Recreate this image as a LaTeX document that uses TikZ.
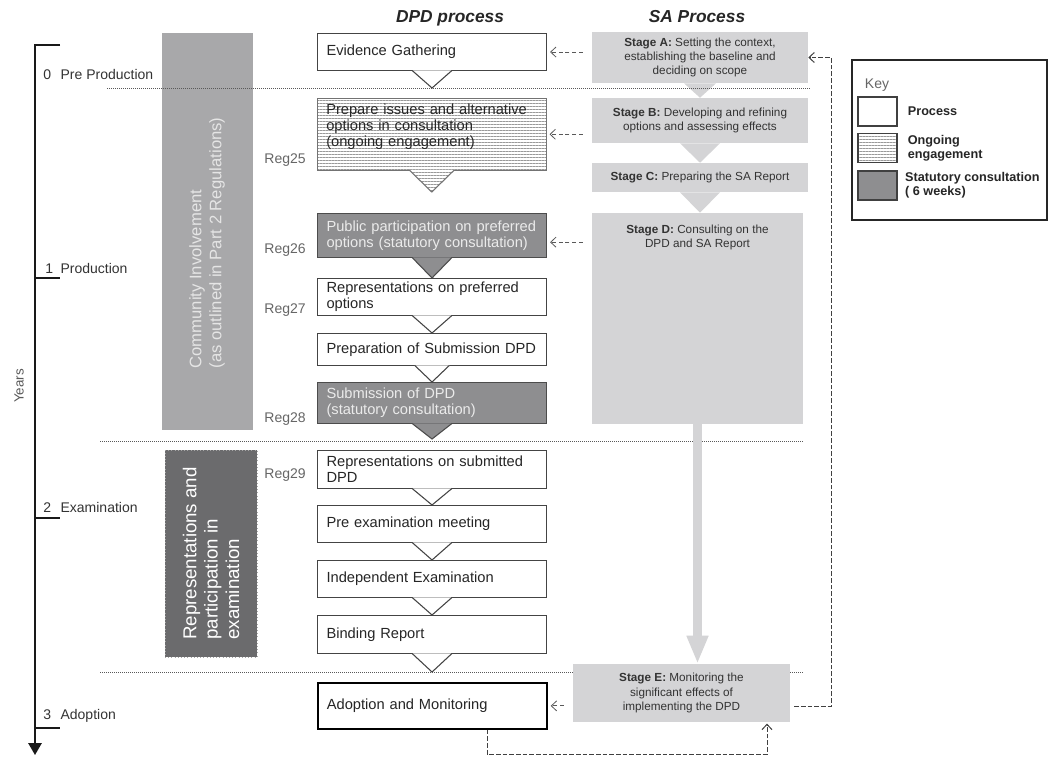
\documentclass[tikz,border=0pt]{standalone}
\usepackage{fontspec}
\setmainfont{Liberation Sans}
\usetikzlibrary{patterns.meta,arrows.meta,positioning}

\definecolor{sagrey}{HTML}{D4D4D6}
\definecolor{cigrey}{HTML}{A8A8AA}
\definecolor{repgrey}{HTML}{6B6B6D}
\definecolor{statgrey}{HTML}{8E8E90}
\definecolor{linegrey}{HTML}{444444}

\newcommand{\boxfont}{\fontsize{11}{12}\selectfont}
\newcommand{\stagefont}{\fontsize{8.8}{10.8}\selectfont}
\newcommand{\yearfont}{\fontsize{10.5}{12}\selectfont}

\begin{document}
\begin{tikzpicture}
[x=0.75pt,y=-0.75pt,
 dpd/.style={draw=linegrey, line width=0.8pt, fill=white, anchor=north west,
   minimum width=171.75pt, text width=158.25pt, inner xsep=6.75pt, inner ysep=0pt,
   align=left, font=\boxfont, text=black!85},
 hatch/.style={pattern={Lines[angle=0,distance=2.25pt,line width=0.4pt]}, pattern color=black!40},
 ongoing/.style={dpd, draw=black!55, hatch},
 stat/.style={dpd, fill=statgrey, draw=black!70, text=white!92!black},
 adoptbox/.style={dpd, draw=black, line width=1.3pt},
 vtip/.style={draw=linegrey, line width=0.8pt, fill=white},
 vstat/.style={vtip, draw=black!70, fill=statgrey},
 sabox/.style={fill=sagrey, font=\stagefont, align=center, inner sep=0pt, text=black!80},
 band/.style={inner sep=0pt},
 bandtext/.style={rotate=90, align=left, inner sep=0pt},
 yearlabel/.style={anchor=west, inner sep=0pt, font=\yearfont, text=black!80},
 reg/.style={anchor=east, inner sep=0pt, font=\yearfont, text=black!60},
 head/.style={font=\fontsize{13}{15}\selectfont\bfseries\itshape, text=black!85},
 timeline/.style={line width=1.5pt, draw=black!90},
 stageline/.style={draw=black!65, line width=0.75pt, dash pattern=on 0.75pt off 0.75pt},
 feed/.style={draw=black!65, line width=0.6pt, dash pattern=on 3pt off 2pt,
   -{Straight Barb[length=4pt,width=7.5pt]}, shorten >=2.25pt, shorten <=6.75pt},
 loopline/.style={draw=black!75, line width=0.75pt, dash pattern=on 3.5pt off 1.5pt,
   -{Straight Barb[length=4pt,width=7.5pt]}},
 saflow/.style={draw=sagrey, line width=6.75pt, -{Triangle[length=21pt,width=15pt]}},
 keyswatch/.style={draw=black!75, line width=0.9pt, minimum width=29.25pt,
   minimum height=21.75pt, inner sep=0pt},
 keytext/.style={inner sep=0pt, align=left, text=black!85,
   font=\fontsize{9.5}{10.5}\selectfont\bfseries}]

  \useasboundingbox (0,0) rectangle (1050,757);
  \fill[white] (0,0) rectangle (1050,757);

  % time axis
  \draw[timeline, -{Triangle[length=9pt,width=10pt]}] (60,45) -- (35,45) -- (35,755);
  \foreach \y in {278,518,728}
    \draw[timeline] (35,\y) -- (60,\y);
  \node[yearlabel] (p0) at (43,74) {\makebox[13pt][l]{0}Pre Production};
  \node[yearlabel] (p1) at (45,268) {\makebox[11.5pt][l]{1}Production};
  \node[yearlabel] (p2) at (43,507) {\makebox[13pt][l]{2}Examination};
  \node[yearlabel] (p3) at (43,716) {\makebox[13pt][l]{3}Adoption};
  \node[rotate=90, font=\fontsize{10}{12}\selectfont, text=black!65] (years) at (19,386) {Years};

  % side bands
  \node[band, fill=cigrey, minimum width=68.25pt, minimum height=297.75pt] (ci) at (207.5,231.5) {};
  \node[bandtext, text=white!90!black, font=\fontsize{12.5}{15}\selectfont] (citext) at (207,243)
    {Community Involvement\\(as outlined in Part 2 Regulations)};
  \node[band, fill=repgrey, draw=black!35, dotted, minimum width=69pt, minimum height=155.25pt] (rep) at (211,553.5) {};
  \node[bandtext, text=white, font=\fontsize{14}{16}\selectfont] (reptext) at (rep.center)
    {Representations and\\participation in\\examination};

  \node[head] (dpdhead) at (450,18) {DPD process};
  \node[head] (sahead) at (697,17) {SA Process};

  % SA process
  \node[sabox, minimum width=162pt, minimum height=38.25pt] (stA) at (700,57.5)
    {\textbf{Stage A:} Setting the context,\\establishing the baseline and\\deciding on scope};
  \node[sabox, minimum width=162pt, minimum height=33.75pt] (stB) at (700,120.5)
    {\textbf{Stage B:} Developing and refining\\options and assessing effects};
  \node[sabox, minimum width=162pt, minimum height=21.75pt] (stC) at (700,177.5)
    {\textbf{Stage C:} Preparing the SA Report};
  \node[sabox, minimum width=158.25pt, minimum height=158.25pt] (stD) at (697.5,318.5) {};
  \node[sabox, fill=none, anchor=north] (stDtext) at ([yshift=-9pt]stD.north)
    {\textbf{Stage D:} Consulting on the\\DPD and SA Report};
  \fill[sagrey] ([xshift=-12pt]stA.south) -- ([xshift=12pt]stA.south) -- (stB.north) -- cycle;
  \fill[sagrey] ([xshift=-15pt]stB.south) -- ([xshift=15pt]stB.south) -- (stC.north) -- cycle;
  \fill[sagrey] ([xshift=-15pt]stC.south) -- ([xshift=15pt]stC.south) -- (stC.south |- stD.north) -- cycle;

  % stage separators
  \draw[stageline] (107,88) -- (810,88);
  \draw[stageline] (100,441) -- (804,441);
  \draw[stageline] (100,672) -- (804,672);

  % DPD process
  \node[dpd, minimum height=27.75pt] (ev) at (317,33) {Evidence Gathering};
  \node[ongoing, minimum height=54pt, text depth=37pt] (prep) at (317,98)
    {Prepare issues and alternative\\options in consultation\\(ongoing engagement)};
  \node[stat, minimum height=33pt] (pub) at (317,213)
    {Public participation on preferred\\options (statutory consultation)};
  \node[dpd, minimum height=27.75pt] (rpref) at (317,278)
    {Representations on preferred\\options};
  \node[dpd, minimum height=24pt] (prepsub) at (317,333) {Preparation of Submission DPD};
  \node[stat, minimum height=30.75pt] (sub) at (317,382)
    {Submission of DPD\\(statutory consultation)};
  \node[dpd, minimum height=28.5pt] (rsub) at (317,450)
    {Representations on submitted\\DPD};
  \node[dpd, minimum height=27.75pt] (preex) at (317,505) {Pre examination meeting};
  \node[dpd, minimum height=27.75pt] (indep) at (317,560) {Independent Examination};
  \node[dpd, minimum height=28.5pt] (bind) at (317,615) {Binding Report};
  \node[adoptbox, minimum height=34.5pt] (adopt) at (317,682) {Adoption and Monitoring};

  % pointers under the boxes
  \filldraw[vtip] ([xshift=-15pt,yshift=0.5pt]ev.south) -- (ev.south |- 0,88) -- ([xshift=15pt,yshift=0.5pt]ev.south);
  \fill[white] ([xshift=-17pt,yshift=0.5pt]prep.south) -- (prep.south |- 0,192) -- ([xshift=17pt,yshift=0.5pt]prep.south) -- cycle;
  \filldraw[vtip, hatch, draw=black!55] ([xshift=-17pt,yshift=0.5pt]prep.south) -- (prep.south |- 0,192) -- ([xshift=17pt,yshift=0.5pt]prep.south);
  \filldraw[vstat] ([xshift=-15pt,yshift=0.5pt]pub.south) -- (pub.south |- rpref.north) -- ([xshift=15pt,yshift=0.5pt]pub.south);
  \filldraw[vtip] ([xshift=-15pt,yshift=0.5pt]rpref.south) -- (rpref.south |- prepsub.north) -- ([xshift=15pt,yshift=0.5pt]rpref.south);
  \filldraw[vtip] ([xshift=-13pt,yshift=0.5pt]prepsub.south) -- (prepsub.south |- sub.north) -- ([xshift=13pt,yshift=0.5pt]prepsub.south);
  \filldraw[vstat] ([xshift=-15pt,yshift=0.5pt]sub.south) -- (sub.south |- 0,439) -- ([xshift=15pt,yshift=0.5pt]sub.south);
  \foreach \a/\b in {rsub/preex,preex/indep,indep/bind}
    \filldraw[vtip] ([xshift=-15pt,yshift=0.5pt]\a.south) -- (\a.south |- \b.north) -- ([xshift=15pt,yshift=0.5pt]\a.south);
  \filldraw[vtip] ([xshift=-15pt,yshift=0.5pt]bind.south) -- (bind.south |- 0,672) -- ([xshift=15pt,yshift=0.5pt]bind.south);

  \foreach \y/\r in {160/25,250/26,310/27,419/28,475/29}
    \node[reg] (reg\r) at (306,\y) {Reg\r};

  \node[sabox, minimum width=162.75pt, minimum height=43.5pt] (stE) at (681.5,693)
    {\textbf{Stage E:} Monitoring the\\significant effects of\\implementing the DPD};
  \draw[saflow] (stD.south) -- (stD.south |- stE.north);

  % links between the two processes
  \coordinate (pubin) at ([yshift=-5pt]pub.east);
  \draw[feed] (stA.west |- ev.east) -- (ev.east);
  \draw[feed] (stB.west |- prep.east) -- (prep.east);
  \draw[feed] (stD.west |- pubin) -- (pubin);
  \draw[feed] (stE.west |- adopt.east) -- (adopt.east);

  \coordinate (loopE) at (831,706);
  \coordinate (loopA) at (487,754);
  \coordinate (loopB) at (767,754);
  \draw[loopline, shorten <=3pt] (stE.east |- loopE) -- (loopE) |- (stA.east);
  \draw[loopline, shorten >=1pt] (loopA |- adopt.south) -- (loopA) -- (loopB) -- (loopB |- stE.south);

  % key
  \draw[draw=black!85, line width=1.5pt] (852,60) rectangle (1047,220);
  \node[font=\yearfont, text=black!60] (keytitle) at (877,85) {Key};
  \node[keyswatch, fill=white] (kproc) at (877.5,111.5) {};
  \node[keyswatch, hatch] (kong) at (877.5,148) {};
  \node[keyswatch, fill=statgrey] (kstat) at (877.5,185.5) {};
  \node[keytext, anchor=west, right=7.5pt of kproc] (kproct) {Process};
  \node[keytext, anchor=west, right=7.5pt of kong] (kongt) {Ongoing\\engagement};
  \node[keytext, anchor=west, right=5.5pt of kstat] (kstatt) {Statutory consultation\\( 6 weeks)};
\end{tikzpicture}
\end{document}
